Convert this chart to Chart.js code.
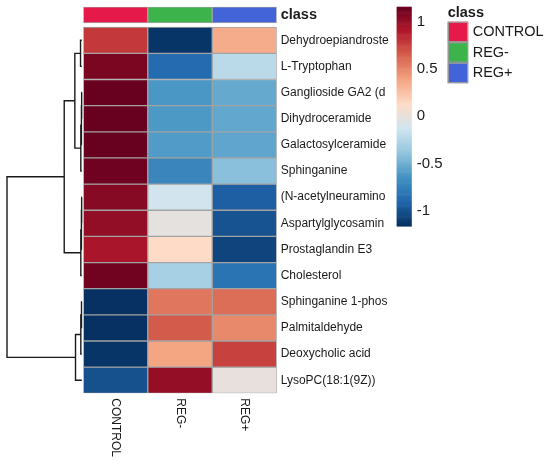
<!DOCTYPE html>
<html>
<head>
<meta charset="utf-8">
<script src="https://cdn.jsdelivr.net/npm/chart.js@4.4.0/dist/chart.umd.min.js"></script>
<style>
  html, body { margin: 0; padding: 0; background: #fff; }
  #wrap { width: 550px; height: 461px; position: relative; }
</style>
</head>
<body>
<div id="wrap"><canvas id="heatmap"></canvas></div>
<script>
// ------------------------------------------------------
// Data (row-scaled z values)
// ------------------------------------------------------
const groups = ["CONTROL", "REG-", "REG+"];
const classColors = ["#E6194B", "#3CB44B", "#4363D8"];

const compounds = [
  "Dehydroepiandroste", "L-Tryptophan", "Ganglioside GA2 (d", "Dihydroceramide",
  "Galactosylceramide", "Sphinganine", "(N-acetylneuramino", "Aspartylglycosamin",
  "Prostaglandin E3", "Cholesterol", "Sphinganine 1-phos", "Palmitaldehyde",
  "Deoxycholic acid", "LysoPC(18:1(9Z))"
];

const control  = [0.78, 1.09, 1.15, 1.15, 1.15, 1.13, 1.05, 1.01, 0.93, 1.12, -1.15, -1.15, -1.13, -1.00];
const regMinus = [-1.13, -0.87, -0.62, -0.61, -0.60, -0.72, -0.12, -0.02, 0.13, -0.30, 0.56, 0.66, 0.38, 1.00];
const regPlus  = [0.35, -0.22, -0.53, -0.54, -0.55, -0.41, -0.93, -0.99, -1.06, -0.82, 0.59, 0.49, 0.75, 0.00];

// colour key
const colorTicks = [1, 0.5, 0, -0.5, -1];
const zLimit = 1.1547;

// row dendrogram (hclust style: negative = leaf -(row+1), positive = earlier merge)
const mergePairs = [
  [-3, -4], [-7, -8], [-11, -12], [1, -5], [2, -9], [4, -6], [5, -10],
  [3, -13], [-1, -2], [8, -14], [9, 6], [11, 7], [12, 10]
];
const mergeHeights = [0.02, 0.02, 0.04, 0.05, 0.05, 0.13, 0.13, 0.13, 0.17, 0.84, 0.93, 2.35, 10];

// ------------------------------------------------------
// Layout / style
// ------------------------------------------------------
const FONT = "'Liberation Sans', Arial, Helvetica, sans-serif";
const TEXT = "#1a1a1a";
const CELL_BORDER = "#a3a3a3";
const CLASS_TOP = -0.78, CLASS_BOTTOM = -0.165;   // class strip, in row units

// reversed RdBu (10)
const palette = ["#053061", "#2166AC", "#4393C3", "#92C5DE", "#D1E5F0",
                 "#FDDBC7", "#F4A582", "#D6604D", "#B2182B", "#67001F"];

function hexToRgb(h) {
  const n = parseInt(h.slice(1), 16);
  return [(n >> 16) & 255, (n >> 8) & 255, n & 255];
}
const paletteRgb = palette.map(hexToRgb);

function colorFor(v) {
  let t = (v + zLimit) / (2 * zLimit);
  t = Math.max(0, Math.min(1, t));
  const p = t * (paletteRgb.length - 1);
  const i = Math.min(Math.floor(p), paletteRgb.length - 2);
  const f = p - i;
  const a = paletteRgb[i], b = paletteRgb[i + 1];
  const c = a.map((x, k) => Math.round(x + (b[k] - x) * f));
  return `rgb(${c[0]},${c[1]},${c[2]})`;
}

// datasets: one per row, each covering the three group columns
const rowValues = compounds.map((_, r) => [control[r], regMinus[r], regPlus[r]]);

const datasets = compounds.map((name, r) => ({
  label: name,
  data: groups.map(() => [r, r + 1]),
  backgroundColor: rowValues[r].map(colorFor),
  borderColor: CELL_BORDER,
  borderWidth: 1,
  borderSkipped: false,
  barPercentage: 1,
  categoryPercentage: 1
}));

datasets.unshift({
  label: "class",
  data: groups.map(() => [CLASS_TOP, CLASS_BOTTOM]),
  backgroundColor: classColors,
  borderColor: CELL_BORDER,
  borderWidth: 1,
  borderSkipped: false,
  barPercentage: 1,
  categoryPercentage: 1
});

const classCenter = (CLASS_TOP + CLASS_BOTTOM) / 2;

// ------------------------------------------------------
// Plugins: dendrogram, column labels, colour key, class legend
// ------------------------------------------------------
const dendroPlugin = {
  id: "dendro",
  afterDatasetsDraw(chart) {
    const ctx = chart.ctx, y = chart.scales.y, area = chart.chartArea;
    const leafX = area.left - 1.5, rootX = 7;
    const hMax = Math.max(...mergeHeights);
    const hx = h => leafX - h / hMax * (leafX - rootX);
    const pos = [];
    const node = k => k < 0
      ? { x: leafX, y: y.getPixelForValue(-k - 1 + 0.5) }
      : { x: hx(mergeHeights[k - 1]), y: pos[k - 1] };

    ctx.save();
    ctx.strokeStyle = TEXT;
    ctx.lineWidth = 1.4;
    ctx.beginPath();
    mergePairs.forEach((m, i) => {
      const a = node(m[0]), b = node(m[1]), x = hx(mergeHeights[i]);
      ctx.moveTo(a.x, a.y);
      ctx.lineTo(x, a.y);
      ctx.lineTo(x, b.y);
      ctx.lineTo(b.x, b.y);
      pos[i] = (a.y + b.y) / 2;
    });
    ctx.stroke();
    ctx.restore();
  }
};

const colLabelPlugin = {
  id: "colLabels",
  afterDraw(chart) {
    const ctx = chart.ctx, x = chart.scales.x, area = chart.chartArea;
    ctx.save();
    ctx.fillStyle = TEXT;
    ctx.font = "12px " + FONT;
    ctx.textAlign = "left";
    ctx.textBaseline = "middle";
    groups.forEach((g, i) => {
      ctx.save();
      ctx.translate(x.getPixelForValue(i), area.bottom + 5);
      ctx.rotate(Math.PI / 2);
      ctx.fillText(g, 0, 0);
      ctx.restore();
    });
    ctx.restore();
  }
};

const keyPlugin = {
  id: "colorKey",
  afterDraw(chart) {
    const ctx = chart.ctx;
    // colour bar
    const bx = 396.7, bw = 15, top = 6.7, bottom = 226;
    const vy = v => top + (zLimit - v) / (2 * zLimit) * (bottom - top);
    const steps = 200;
    for (let s = 0; s < steps; s++) {
      const v = zLimit - (s + 0.5) / steps * 2 * zLimit;
      ctx.fillStyle = colorFor(v);
      const y0 = top + s / steps * (bottom - top);
      ctx.fillRect(bx, y0, bw, (bottom - top) / steps + 0.6);
    }
    ctx.fillStyle = TEXT;
    ctx.font = "15px " + FONT;
    ctx.textAlign = "left";
    ctx.textBaseline = "middle";
    colorTicks.forEach(t => ctx.fillText(String(t), bx + bw + 5, vy(t)));

    // class legend
    const lx = 447.7, ly = 21.7, bs = 20.5;
    ctx.font = "bold 14.5px " + FONT;
    ctx.fillText("class", lx, 12.5);
    ctx.font = "14.5px " + FONT;
    groups.forEach((g, i) => {
      const y0 = ly + i * bs;
      ctx.fillStyle = classColors[i];
      ctx.fillRect(lx, y0, bs, bs);
      ctx.strokeStyle = "#999999";
      ctx.lineWidth = 1.2;
      ctx.strokeRect(lx + 0.6, y0 + 0.6, bs - 1.2, bs - 1.2);
      ctx.fillStyle = TEXT;
      ctx.fillText(g, lx + bs + 4.5, y0 + bs / 2 + 0.5);
    });
  }
};

// ------------------------------------------------------
// Chart
// ------------------------------------------------------
Chart.defaults.font.family = FONT;
Chart.defaults.color = TEXT;

new Chart(document.getElementById("heatmap"), {
  type: "bar",
  data: { labels: groups, datasets: datasets },
  options: {
    responsive: true,
    maintainAspectRatio: false,
    animation: false,
    layout: { padding: { left: 83.3, top: 6.8, bottom: 67.7, right: 0 } },
    plugins: {
      legend: { display: false },
      tooltip: { enabled: false }
    },
    scales: {
      x: {
        stacked: true,
        display: false,
        grid: { display: false }
      },
      y: {
        type: "linear",
        position: "right",
        reverse: true,
        min: CLASS_TOP,
        max: compounds.length,
        stacked: false,
        grid: { display: false, drawTicks: false },
        border: { display: false },
        afterBuildTicks: scale => {
          scale.ticks = [{ value: classCenter }].concat(compounds.map((_, r) => ({ value: r + 0.5 })));
        },
        afterFit: scale => {
          scale.width = 273.3;
          scale.paddingTop = 0;
          scale.paddingBottom = 0;
        },
        ticks: {
          autoSkip: false,
          padding: 4,
          color: TEXT,
          font: c => (c.tick && c.tick.value === classCenter)
            ? { size: 14.5, weight: "bold" }
            : { size: 12 },
          callback: v => v === classCenter ? "class" : compounds[Math.round(v - 0.5)]
        }
      }
    }
  },
  plugins: [dendroPlugin, colLabelPlugin, keyPlugin]
});
</script>
</body>
</html>
